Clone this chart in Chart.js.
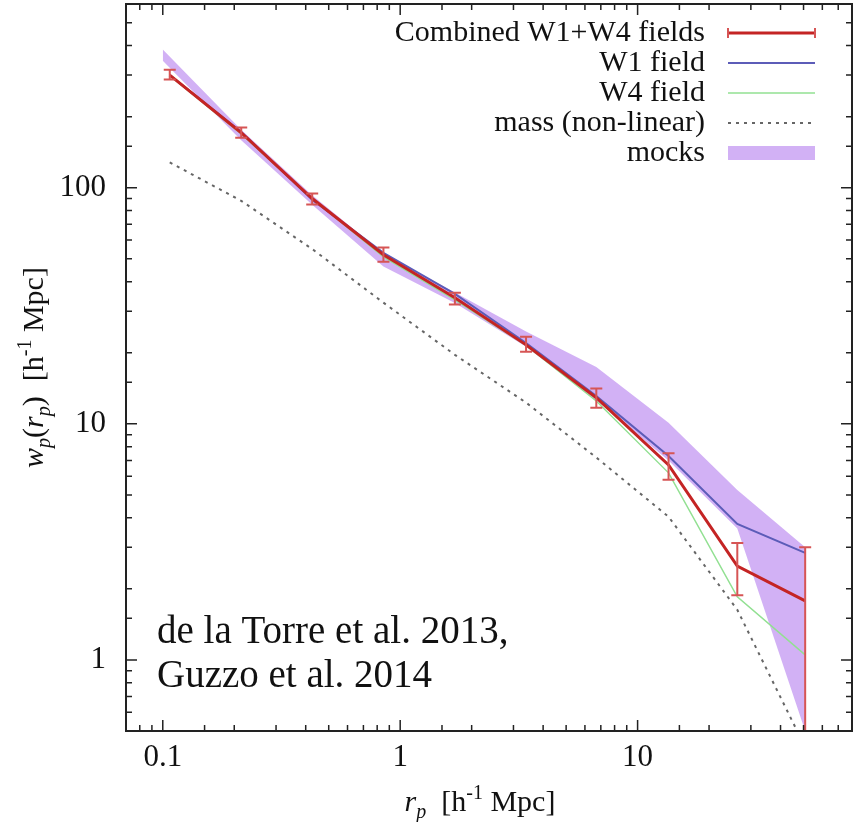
<!DOCTYPE html>
<html>
<head>
<meta charset="utf-8">
<script src="https://cdn.jsdelivr.net/npm/chart.js@4.4.0/dist/chart.umd.min.js"></script>
<style>
    html, body { margin: 0; padding: 0; background: #fff; }
    #wrap { width: 858px; height: 822px; }
</style>
</head>
<body>
<div id="wrap"><canvas id="chart_w"></canvas></div>
<script>
// r_p bins [h^-1 Mpc]
const rp = [0.107, 0.214, 0.426, 0.85, 1.7, 3.39, 6.7, 13.5, 26.3, 50.8]
// combined W1+W4 and its error bars
const combined = [300, 171, 90, 52, 34.2, 21.6, 12.9, 6.7, 2.5, 1.78]
const combinedLow = [287, 163, 85, 48.6, 32, 20.2, 11.7, 5.8, 1.88, 0.5]
const combinedHigh = [316, 180, 94.6, 55.8, 35.9, 23.4, 14.1, 7.5, 3.13, 3.0]
const w1 = [300, 172, 89, 53, 35.5, 22, 13.1, 7.3, 3.77, 2.84]
const w4 = [298, 169, 90, 51, 33.5, 21.5, 12.5, 6.2, 1.85, 1.05]
// non-linear mass
const massR = [0.107, 0.214, 0.426, 0.85, 1.7, 3.39, 6.7, 13.5, 26.3, 47]
const mass = [128, 88, 55, 32.6, 19.6, 12.3, 7.2, 4.04, 1.63, 0.5]
// mocks band
const mockR = [0.1, 0.214, 0.426, 0.85, 1.7, 3.39, 6.7, 13.5, 26.3, 50.8]
const mockLow = [345, 159, 84.6, 46.4, 32.5, 21.2, 12.6, 7.0, 3.6, 0.5]
const mockHigh = [385, 176, 93, 52.6, 36, 24.6, 17.4, 10.1, 5.25, 3.0]

const xTicks = [0.1, 1, 10]
const yTicks = [1, 10, 100]

const serif = "'Liberation Serif', 'Times New Roman', serif"
Chart.defaults.font.family = serif
Chart.defaults.color = '#111'

const pts = (xs, ys) => xs.map((x, i) => ({ x: x, y: ys[i] }))
const isMajor = (v, list) => list.some(t => Math.abs(t - v) / t < 1e-6)

const bandColor = 'rgba(188, 140, 240, 0.68)'

// draws text pieces with sub/superscripts, centred on (0,0) of current transform
function drawRich(c, parts, size) {
    const small = Math.round(size * 0.68)
    let total = 0
    parts.forEach(p => {
        c.font = (p.it ? 'italic ' : '') + (p.sub || p.sup ? small : size) + 'px ' + serif
        p.w = c.measureText(p.t).width
        total += p.w
    })
    let x = -total / 2
    c.textAlign = 'left'
    c.textBaseline = 'alphabetic'
    parts.forEach(p => {
        c.font = (p.it ? 'italic ' : '') + (p.sub || p.sup ? small : size) + 'px ' + serif
        let dy = size * 0.35
        if (p.sub) dy += size * 0.25
        if (p.sup) dy -= size * 0.4
        c.fillText(p.t, x, dy)
        x += p.w
    })
}

const wpExtras = {
    id: 'wpExtras',
    afterDatasetsDraw(chart) {
        const c = chart.ctx
        const xs = chart.scales.x, ys = chart.scales.y
        const area = chart.chartArea
        c.save()
        c.strokeStyle = '#d65555'
        c.lineWidth = 2
        rp.forEach((r, i) => {
            const px = xs.getPixelForValue(r)
            const yh = Math.max(ys.getPixelForValue(combinedHigh[i]), area.top)
            const yl = Math.min(ys.getPixelForValue(combinedLow[i]), area.bottom)
            c.beginPath()
            c.moveTo(px, yh); c.lineTo(px, yl)
            c.moveTo(px - 6, yh); c.lineTo(px + 6, yh)
            c.moveTo(px - 6, yl); c.lineTo(px + 6, yl)
            c.stroke()
        })
        c.restore()
    },
    afterDraw(chart) {
        const c = chart.ctx
        const xs = chart.scales.x, ys = chart.scales.y
        const { left, right, top, bottom } = chart.chartArea
        c.save()

        // inward ticks on all four sides
        c.strokeStyle = '#222'
        c.lineWidth = 1.5
        c.beginPath()
        xs.ticks.forEach(t => {
            const px = xs.getPixelForValue(t.value)
            const len = isMajor(t.value, xTicks) ? 11 : 6
            c.moveTo(px, bottom); c.lineTo(px, bottom - len)
            c.moveTo(px, top); c.lineTo(px, top + len)
        })
        ys.ticks.forEach(t => {
            const py = ys.getPixelForValue(t.value)
            const len = isMajor(t.value, yTicks) ? 11 : 6
            c.moveTo(left, py); c.lineTo(left + len, py)
            c.moveTo(right, py); c.lineTo(right - len, py)
        })
        c.stroke()

        // frame
        c.lineWidth = 2
        c.strokeRect(left, top, right - left, bottom - top)

        // legend
        const rows = chart.data.datasets.filter(d => !d.hidden && d.label !== '')
        c.font = '30px ' + serif
        c.textAlign = 'right'
        c.textBaseline = 'middle'
        c.fillStyle = '#111'
        const textRight = 705, s0 = 728, s1 = 815
        rows.forEach((d, i) => {
            const y = 33 + i * 30
            c.fillText(d.label, textRight, y)
            c.save()
            if (d.fill) {
                c.fillStyle = d.backgroundColor
                c.fillRect(s0, y - 7, s1 - s0, 14)
            } else {
                c.strokeStyle = d.borderColor
                c.lineWidth = d.borderWidth
                c.setLineDash(d.borderDash || [])
                c.beginPath()
                c.moveTo(s0, y); c.lineTo(s1, y)
                c.stroke()
                if (i === 0) {
                    c.strokeStyle = '#d65555'
                    c.lineWidth = 2
                    c.beginPath()
                    c.moveTo(s0, y - 5); c.lineTo(s0, y + 5)
                    c.moveTo(s1, y - 5); c.lineTo(s1, y + 5)
                    c.stroke()
                }
            }
            c.restore()
        })

        // reference note
        c.fillStyle = '#111'
        c.textAlign = 'left'
        c.textBaseline = 'alphabetic'
        c.font = '39px ' + serif
        c.fillText('de la Torre et al. 2013,', 157, 643)
        c.fillText('Guzzo et al. 2014', 157, 687)

        // axis titles
        c.save()
        c.translate(480, 800)
        drawRich(c, [
            { t: 'r', it: true }, { t: 'p', it: true, sub: true },
            { t: '  [h' }, { t: '-1', sup: true }, { t: ' Mpc]' }
        ], 30)
        c.restore()

        c.save()
        c.translate(32, (top + bottom) / 2)
        c.rotate(-Math.PI / 2)
        drawRich(c, [
            { t: 'w', it: true }, { t: 'p', it: true, sub: true }, { t: '(' },
            { t: 'r', it: true }, { t: 'p', it: true, sub: true }, { t: ')' },
            { t: '  [h' }, { t: '-1', sup: true }, { t: ' Mpc]' }
        ], 30)
        c.restore()

        c.restore()
    }
}

const ctx = document.getElementById('chart_w').getContext('2d')
const wpChart = new Chart(ctx, {
    type: 'line',
    data: {
        datasets: [
            {
                label: 'Combined W1+W4 fields',
                data: pts(rp, combined),
                borderColor: '#c42424',
                borderWidth: 3,
                pointRadius: 0,
                fill: false
            },
            {
                label: 'W1 field',
                data: pts(rp, w1),
                borderColor: '#5c5cb8',
                borderWidth: 2,
                pointRadius: 0,
                fill: false
            },
            {
                label: 'W4 field',
                data: pts(rp, w4),
                borderColor: '#92e092',
                borderWidth: 1.5,
                pointRadius: 0,
                fill: false
            },
            {
                label: 'mass (non-linear)',
                data: pts(massR, mass),
                borderColor: '#666',
                borderWidth: 2,
                borderDash: [3, 5],
                pointRadius: 0,
                fill: false
            },
            {
                label: '',
                data: pts(mockR, mockLow),
                borderColor: 'transparent',
                borderWidth: 0,
                pointRadius: 0,
                fill: false
            },
            {
                label: 'mocks',
                data: pts(mockR, mockHigh),
                borderColor: 'transparent',
                borderWidth: 0,
                pointRadius: 0,
                backgroundColor: bandColor,
                fill: '-1'
            }
        ]
    },
    options: {
        responsive: true,
        maintainAspectRatio: false,
        animation: false,
        layout: { padding: { top: 4, right: 6, left: 0, bottom: 0 } },
        plugins: {
            legend: { display: false },
            tooltip: { enabled: false }
        },
        scales: {
            x: {
                type: 'logarithmic',
                min: 0.07,
                max: 80,
                grid: { display: false, drawTicks: false },
                border: { display: false },
                ticks: {
                    autoSkip: false,
                    maxRotation: 0,
                    padding: 8,
                    font: { size: 31 },
                    color: '#111',
                    callback: v => isMajor(v, xTicks) ? String(v) : ''
                },
                afterFit: s => { s.height = 91; s.paddingLeft = 0; s.paddingRight = 0 }
            },
            y: {
                type: 'logarithmic',
                min: 0.5,
                max: 600,
                grid: { display: false, drawTicks: false },
                border: { display: false },
                ticks: {
                    autoSkip: false,
                    padding: 20,
                    font: { size: 31 },
                    color: '#111',
                    callback: v => isMajor(v, yTicks) ? String(v) : ''
                },
                afterFit: s => { s.width = 126; s.paddingTop = 0; s.paddingBottom = 0 }
            }
        }
    },
    plugins: [wpExtras]
})
</script>
</body>
</html>
